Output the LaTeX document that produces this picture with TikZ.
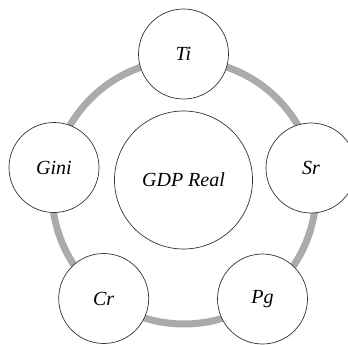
\documentclass[tikz,border=0pt]{standalone}
\usepackage{fontspec}
\setmainfont{Liberation Serif}
\begin{document}
\begin{tikzpicture}[x=1pt,y=-1pt,
  bub/.style={circle,draw=black!80,line width=0.7pt,fill=white,minimum size=90pt,inner sep=0pt,font=\fontsize{20}{24}\selectfont\itshape},
  hub/.style={bub,minimum size=138pt},
  ring/.style={draw=black!33,line width=7pt}]
\useasboundingbox (0,0) rectangle (348,345);
\coordinate (rc) at (184,192);
\draw[ring] (rc) circle[radius=132];
\node[hub] (gdp) at (183.5,180) {GDP Real};
\node[bub] (ti) at (183.5,54) {Ti};
\node[bub] (sr) at (311,168) {Sr};
\node[bub] (pg) at (262.5,299) {Pg};
\node[bub] (cr) at (103.7,298.5) {Cr};
\node[bub] (gini) at (54,167.5) {Gini};
\end{tikzpicture}
\end{document}
